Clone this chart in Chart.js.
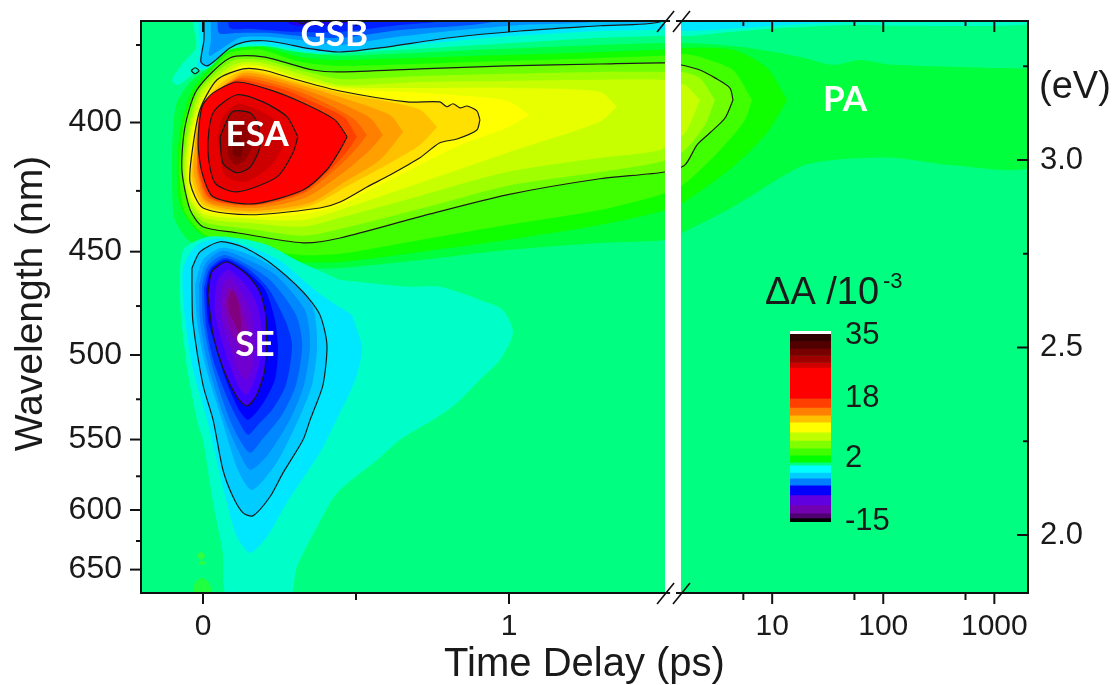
<!DOCTYPE html>
<html><head><meta charset="utf-8">
<style>html,body{margin:0;padding:0;background:#fff;overflow:hidden}
#wrap{position:relative;width:1113px;height:685px}
canvas{position:absolute;left:0;top:0}
#bar{left:780px;top:320px}</style>
<script src="https://cdn.jsdelivr.net/npm/chart.js@4"></script></head>
<body><div id="wrap"><canvas id="map" width="1113" height="685"></canvas><canvas id="bar" width="125" height="225"></canvas></div>
<script>
// Contours: [delay axis position (fs; compressed log past the break), photon energy (meV)]
const gsbTeal=[[-42,3400],[-29,3347],[-23,3299],[-62,3262],[-101,3214],[-82,3200],[-23,3235],[23,3246],[72,3288],[137,3302],[252,3294],[382,3283],[644,3294],[971,3310],[1297,3326],[1493,3331],[1592,3331],[1690,3339],[1886,3352],[2114,3360],[2278,3358],[2719,3363],[2719,3400]];
const gsbCyan=[[-16,3400],[-13,3334],[-10,3280],[-20,3248],[13,3246],[72,3294],[137,3310],[252,3302],[382,3288],[644,3304],[971,3328],[1297,3344],[1493,3347],[1592,3344],[1755,3352],[1951,3363],[2114,3371],[2114,3400]];
const gsbLine=[[3,3400],[3,3320],[-7,3262],[13,3251],[42,3267],[88,3299],[137,3315],[199,3318],[268,3310],[333,3299],[448,3288],[578,3299],[807,3326],[1036,3344],[1297,3358],[1493,3368],[1493,3400]];
const gsb4=[[23,3400],[26,3320],[20,3278],[56,3294],[121,3326],[219,3328],[317,3320],[448,3307],[611,3326],[807,3344],[1036,3360],[1297,3371],[1297,3400]];
const gsb5=[[49,3400],[52,3339],[105,3339],[219,3339],[317,3331],[448,3326],[644,3347],[905,3363],[1134,3400]];
const gsb6=[[82,3400],[88,3352],[154,3350],[284,3342],[448,3342],[644,3360],[807,3374],[807,3400]];
const gsb7=[[268,3400],[284,3363],[350,3358],[448,3363],[578,3374],[644,3400]];
const gsbRing=[[-39,3238],[-26,3246],[-13,3238],[-26,3230]];
const gsbCore=[[304,3374],[324,3363],[343,3374]];

const pa1=[[2719,3243],[2255,3254],[2147,3267],[2059,3254],[1951,3275],[1755,3302],[1559,3312],[1297,3307],[905,3294],[448,3278],[307,3288],[196,3304],[88,3288],[33,3254],[-42,3208],[-88,3147],[-101,3027],[-101,2920],[-92,2840],[-42,2782],[56,2747],[317,2712],[448,2712],[719,2734],[993,2760],[1297,2779],[1510,2787],[1565,2806],[1732,2875],[1951,2982],[2059,3000],[2255,3006],[2441,2987],[2719,2987]];
const pa2=[[1909,3160],[1843,3246],[1732,3294],[1569,3299],[1493,3294],[1297,3288],[905,3278],[448,3267],[317,3275],[193,3302],[88,3294],[23,3246],[-36,3187],[-72,3094],[-85,2987],[-75,2880],[-16,2808],[154,2744],[317,2728],[448,2728],[709,2755],[993,2787],[1297,2827],[1493,2862],[1569,2886],[1732,2982],[1843,3072]];
const pa3=[[1794,3160],[1732,3240],[1624,3275],[1569,3283],[1493,3278],[1297,3272],[905,3262],[448,3251],[317,3262],[186,3294],[88,3286],[29,3240],[-29,3179],[-65,3088],[-77,2974],[-62,2867],[7,2800],[154,2766],[317,2747],[448,2750],[709,2787],[993,2827],[1297,2867],[1493,2907],[1569,2934],[1690,3027],[1771,3107]];
const paLine=[[1732,3160],[1722,3192],[1673,3219],[1624,3240],[1559,3254],[1510,3259],[1297,3256],[993,3251],[709,3243],[448,3235],[360,3240],[196,3275],[88,3272],[-20,3187],[-59,3088],[-69,2974],[-42,2867],[0,2822],[111,2806],[327,2779],[448,2792],[719,2851],[993,2907],[1297,2950],[1510,2968],[1575,2987],[1614,3040],[1656,3072],[1706,3112]];
const pa5=[[1673,3160],[1624,3219],[1565,3235],[1493,3235],[1297,3235],[993,3230],[709,3224],[448,3216],[317,3240],[196,3267],[95,3264],[-10,3187],[-49,3088],[-64,2974],[-49,2880],[3,2835],[154,2816],[327,2798],[448,2816],[719,2872],[993,2931],[1297,2968],[1493,2995],[1569,3022],[1641,3094]];
const pa6=[[1624,3160],[1575,3200],[1493,3214],[1297,3214],[993,3211],[709,3208],[448,3200],[317,3230],[193,3259],[105,3256],[0,3187],[-42,3088],[-59,2974],[-46,2894],[3,2846],[154,2832],[327,2822],[448,2846],[719,2907],[993,2968],[1297,3006],[1493,3027],[1575,3072]];
const pa7=[[1353,3142],[1297,3182],[993,3192],[709,3192],[448,3195],[317,3219],[193,3251],[114,3251],[7,3182],[-36,3088],[-54,2974],[-39,2894],[7,2854],[154,2843],[327,2840],[448,2867],[719,2942],[993,3019],[1297,3102]];
const pa8=[[1068,3120],[993,3158],[807,3174],[644,3182],[448,3190],[317,3214],[193,3246],[121,3248],[16,3182],[-29,3088],[-49,2974],[-33,2899],[10,2862],[154,2848],[327,2856],[448,2880],[578,2934],[709,2987],[840,3040],[993,3086]];
const esaLine1=[[905,3107],[895,3131],[863,3144],[840,3139],[817,3150],[797,3142],[774,3155],[667,3155],[448,3184],[307,3214],[196,3240],[131,3243],[46,3214],[-10,3134],[-36,3019],[-42,2939],[0,2872],[154,2854],[382,2872],[448,2888],[536,2928],[611,2960],[709,3006],[774,3046],[830,3056],[895,3080]];
const esa10=[[765,3088],[709,3134],[611,3155],[448,3179],[317,3206],[196,3232],[131,3238],[62,3206],[-7,3139],[-29,3027],[-36,2952],[3,2880],[154,2859],[350,2878],[480,2934],[611,2992],[709,3040]];
const esa11=[[654,3075],[611,3120],[448,3168],[317,3200],[196,3227],[131,3232],[69,3200],[-7,3139],[-26,3040],[-29,2960],[10,2886],[154,2864],[350,2886],[464,2942],[578,3000]];
const esa12=[[588,3067],[546,3112],[448,3152],[317,3192],[196,3219],[124,3224],[62,3192],[-7,3139],[-13,3046],[-20,2968],[13,2891],[163,2872],[333,2899],[448,2960],[546,3027]];
const esa13=[[536,3067],[497,3107],[431,3139],[317,3182],[196,3211],[121,3219],[56,3187],[-7,3139],[-18,3046],[-16,2968],[20,2896],[163,2878],[327,2910],[431,2974],[497,3027]];
const esa14=[[503,3062],[464,3112],[382,3147],[268,3187],[154,3211],[111,3214],[39,3182],[-7,3139],[-17,3046],[-13,2968],[23,2899],[163,2880],[327,2915],[415,2974],[474,3027]];
const esaLine2=[[471,3062],[431,3107],[327,3152],[219,3187],[111,3208],[33,3179],[-3,3142],[-16,3046],[-3,2966],[33,2902],[163,2883],[327,2920],[405,2974],[448,3027]];
const esaLine3=[[310,3062],[275,3115],[196,3155],[111,3174],[33,3126],[16,3027],[39,2939],[111,2915],[242,2955],[294,3019]];
const esa17=[[49,3054],[62,3112],[114,3150],[193,3128],[252,3094],[268,3054],[225,2987],[137,2942],[72,2960]];
const esaLine4=[[56,3062],[95,3128],[154,3126],[180,3094],[186,3035],[154,2981],[111,2966],[65,2992]];
const esa19=[[82,3054],[98,3094],[137,3094],[160,3040],[137,3000],[105,2987],[82,3014]];
const esa20=[[95,3040],[111,3067],[131,3040],[121,3008],[101,3014]];

const se1=[[448,2680],[667,2662],[774,2662],[905,2627],[980,2600],[1013,2539],[971,2467],[905,2414],[830,2352],[752,2307],[644,2254],[569,2200],[438,2112],[373,2022],[307,1915],[278,1827],[82,1827],[65,1952],[33,2086],[0,2254],[-16,2294],[-52,2446],[-75,2627],[-65,2760],[13,2795],[111,2792],[209,2774],[317,2728]];
const se2=[[487,2587],[520,2499],[503,2427],[480,2379],[448,2326],[425,2288],[382,2219],[274,2086],[209,1995],[154,1952],[111,1995],[65,2128],[13,2307],[-33,2440],[-59,2579],[-65,2712],[-20,2774],[56,2790],[163,2766],[261,2726],[373,2648]];
const seLine1=[[-36,2712],[-10,2755],[56,2782],[131,2768],[219,2726],[327,2648],[382,2587],[405,2507],[392,2400],[360,2328],[350,2307],[327,2254],[261,2165],[219,2102],[163,2051],[131,2059],[98,2102],[65,2174],[33,2307],[0,2400],[-33,2568],[-36,2648]];
const se3=[[-26,2667],[0,2734],[62,2766],[154,2747],[252,2702],[356,2614],[373,2507],[356,2400],[304,2294],[236,2187],[160,2120],[114,2174],[62,2307],[7,2454],[-20,2574]];
const se4=[[-13,2667],[10,2726],[65,2758],[147,2734],[236,2694],[333,2600],[350,2507],[330,2400],[284,2307],[212,2214],[154,2174],[114,2227],[72,2307],[16,2454],[-10,2574]];
const se5=[[-3,2667],[16,2718],[69,2747],[147,2720],[226,2675],[304,2587],[324,2507],[304,2400],[258,2320],[193,2254],[154,2219],[114,2262],[75,2334],[29,2454],[0,2574]];
const se6=[[3,2659],[23,2712],[72,2739],[144,2712],[212,2659],[268,2574],[291,2507],[271,2400],[226,2334],[180,2294],[147,2267],[114,2307],[75,2374],[33,2467],[10,2560]];
const se7=[[10,2654],[26,2707],[75,2734],[144,2702],[203,2654],[235,2574],[245,2494],[235,2414],[193,2347],[147,2307],[114,2339],[72,2419],[39,2507],[16,2574]];
const seLine2=[[16,2640],[29,2702],[78,2728],[144,2694],[186,2648],[206,2579],[203,2446],[176,2374],[144,2344],[111,2368],[65,2446],[33,2534]];
const se9=[[39,2640],[49,2680],[82,2707],[131,2675],[170,2627],[190,2560],[186,2467],[163,2400],[140,2374],[114,2400],[82,2467],[56,2534],[39,2595]];
const se10=[[56,2627],[65,2667],[88,2686],[121,2654],[154,2600],[170,2520],[160,2440],[140,2414],[114,2440],[88,2507],[62,2574]];
const se11=[[69,2614],[82,2659],[105,2648],[131,2600],[147,2534],[137,2480],[114,2507],[88,2547]];
const se12=[[82,2627],[95,2654],[114,2627],[124,2574],[121,2534],[105,2560],[85,2595]];

const blob1=[[-36,1835],[-26,1872],[-3,1886],[20,1872],[29,1835]];
const blob2=[[-20,1944],[-7,1955],[7,1944],[-7,1934]];
const blob3=[[-16,1925],[-3,1931],[10,1925],[-3,1920]];

const fillContours=[gsbTeal,gsbCyan,gsbLine,gsb4,gsb5,gsb6,gsb7,blob1,blob2,blob3,
  pa1,pa2,pa3,paLine,pa5,pa6,pa7,pa8,esaLine1,esa10,esa11,esa12,esa13,esa14,esaLine2,esaLine3,esa17,esaLine4,esa19,esa20,
  se1,se2,seLine1,se3,se4,se5,se6,se7,seLine2,se9,se10,se11,se12];
const fillColors=['#00ffc8','#00e8ff','#00c0ff','#0090ff','#0050ff','#0020ff','#2000e8','#20ff40','#30ff40','#30ff40',
  '#00ff3c','#10ff00','#40ff00','#70ff00','#a0ff00','#c8ff00','#e8ff00','#ffff00','#ffe000','#ffc000','#ffa000','#ff8000','#ff6000','#ff4000','#ff0000','#e60000','#cc0000','#b00000','#900000','#750000',
  '#00ffc8','#00e8ff','#00ccff','#00a8ff','#0088ff','#0060ff','#0030ff','#0000ff','#4000ff','#6000e8','#7000d0','#8000b0','#800080'];
const blackContours=[gsbLine,gsbRing,gsbCore,paLine,esaLine1,esaLine2,esaLine3,esaLine4,seLine1,seLine2];

const delayMajor=[0,1,10,100,1000];
const delayMinor=[0.5,5.5,55,550];
const nmMajor=[400,450,500,550,600,650];
const nmMinor=[375,425,475,525,575,625];
const evMajor=[3.0,2.5,2.0];
const evMinor=[3.25,2.75,2.25];
const breakBand=[1510,1562];
const regionNames=['GSB','ESA','SE','PA'];
const regionDelay=[429,177,170,2098];
const regionEnergy=[3334,3067,2507,3160];
const cbEdges=[36.3,35.6,33.7,31.6,29.7,27.8,26.5,18.1,15.7,13.6,11.7,9,6.8,4.7,2.8,0.9,0.1,-1.8,-3.4,-5.3,-7.9,-10.6,-12.8,-14.1,-15.2];
const cbColors=['#ffffff','#300000','#500000','#780000','#a00000','#d00000','#ff0000','#ff4000','#ff8000','#ffc000','#ffff00','#c0ff00','#80ff00','#40ff00','#00ff00','#00ff80','#00ffff','#00ccff','#0080ff','#0000ff','#6000e0','#7000b0','#500070','#000000'];
const cbTicks=[35,18,2,-15];

const delayPos=t=>t<=1?t*1000:1860+(Math.log10(t)-1)*363;
const nmToMeV=n=>1240000/n;
const SANS='"Liberation Sans",Arial,sans-serif';
const toXY=a=>a.concat([a[0]]).map(p=>({x:p[0],y:p[1]}));
const base={showLine:true,pointRadius:0,pointHoverRadius:0};
const datasets=[];
let ord=0;
fillContours.forEach((c,i)=>datasets.push({...base,data:toXY(c),fill:'shape',backgroundColor:fillColors[i],borderWidth:0,tension:0.25,order:-(ord++)}));
blackContours.forEach(c=>datasets.push({...base,data:toXY(c),fill:false,borderColor:'#1a1a1a',borderWidth:1.2,tension:0.25,order:-(ord++)}));
datasets.push({...base,data:toXY([[breakBand[0],1700],[breakBand[1],1700],[breakBand[1],3500],[breakBand[0],3500]]),fill:'shape',backgroundColor:'#ffffff',borderWidth:0,tension:0,order:-(ord++)});

const decor={id:'decor',
 beforeDatasetsDraw(c){const a=c.chartArea,g=c.ctx;g.save();g.fillStyle='#00ff80';g.fillRect(a.left,a.top,a.right-a.left,a.bottom-a.top);g.restore();},
 afterDatasetsDraw(c){
  const g=c.ctx,a=c.chartArea,X=c.scales.x,Y=c.scales.y,E=c.scales.ev;
  g.save();g.strokeStyle='#111';g.lineCap='butt';
  const seg=(x1,y1,x2,y2,w)=>{g.lineWidth=w;g.beginPath();g.moveTo(x1,y1);g.lineTo(x2,y2);g.stroke();};
  const b0=X.getPixelForValue(breakBand[0]),b1=X.getPixelForValue(breakBand[1]);
  const gap0=b0+5,gap1=b1-5;
  [a.top,a.bottom].forEach(y=>{seg(a.left-1,y,gap0,y,2);seg(gap1,y,a.right+1,y,2);});
  seg(a.left,a.top,a.left,a.bottom,2);seg(a.right,a.top,a.right,a.bottom,2);
  delayMajor.forEach(t=>{const x=X.getPixelForValue(delayPos(t));seg(x,a.bottom,x,a.bottom+11,2);seg(x,a.top,x,a.top+11,2);});
  delayMinor.forEach(t=>{const x=X.getPixelForValue(delayPos(t));seg(x,a.bottom,x,a.bottom+7,2);seg(x,a.top,x,a.top+5,2);});
  nmMajor.forEach(n=>{const y=Y.getPixelForValue(nmToMeV(n));seg(a.left-11,y,a.left,y,2);});
  nmMinor.forEach(n=>{const y=Y.getPixelForValue(nmToMeV(n));seg(a.left-5,y,a.left,y,2);});
  evMajor.forEach(v=>{const y=E.getPixelForValue(v);seg(a.right-11,y,a.right,y,2);});
  evMinor.forEach(v=>{const y=E.getPixelForValue(v);seg(a.right-5,y,a.right,y,2);});
  [b0,b1].forEach(x=>{seg(x-8,a.top+11,x+9,a.top-10,1.6);seg(x-8,a.bottom+11,x+9,a.bottom-10,1.6);});
  g.fillStyle='#fff';g.textAlign='center';g.textBaseline='middle';g.font='bold 35px Lato,"Open Sans",sans-serif';
  regionNames.forEach((n,i)=>g.fillText(n,X.getPixelForValue(regionDelay[i]),Y.getPixelForValue(regionEnergy[i])));
  g.fillStyle='#1a1a1a';g.textAlign='left';g.textBaseline='alphabetic';
  g.font='38px '+SANS;g.fillText('(eV)',1039,98);
  g.font='38px '+SANS;g.fillText('ΔA /10',765,304);
  g.font='22px '+SANS;g.fillText('-3',883,288);
  g.save();g.translate(31,303.5);g.rotate(-Math.PI/2);g.textAlign='center';g.textBaseline='middle';g.font='39px '+SANS;g.fillText('Wavelength (nm)',0,0);g.restore();
  g.restore();
 }};

const noPad=s=>{s.paddingTop=0;s.paddingBottom=0;s.paddingLeft=0;s.paddingRight=0;};
const off={grid:{display:false},border:{display:false}};
new Chart(document.getElementById('map'),{type:'scatter',data:{datasets},plugins:[decor],options:{
 responsive:false,animation:false,events:[],
 layout:{padding:{top:21,left:0,right:0,bottom:0}},
 plugins:{legend:{display:false},tooltip:{enabled:false}},
 scales:{
  x:{type:'linear',position:'bottom',min:-202.6,max:2696,...off,
   afterBuildTicks(s){s.ticks=delayMajor.map(t=>({value:delayPos(t)}));},
   afterFit(s){s.height=92;noPad(s);},
   ticks:{font:{size:30,family:SANS},color:'#1a1a1a',padding:8,autoSkip:false,maxRotation:0,
     callback(v,i){return String(delayMajor[i]);}},
   title:{display:true,text:'Time Delay (ps)',color:'#1a1a1a',font:{size:40,family:SANS,lineHeight:1},padding:{top:0,bottom:0}}},
  y:{type:'linear',position:'left',min:1845.3,max:3370.7,...off,
   afterBuildTicks(s){s.ticks=nmMajor.map(n=>({value:nmToMeV(n)})).reverse();},
   afterFit(s){s.width=141;noPad(s);},
   ticks:{font:{size:32,family:SANS},color:'#1a1a1a',padding:11,autoSkip:false,
     callback(v){return String(Math.round(1240000/v));}}},
  ev:{type:'linear',axis:'y',position:'right',min:1.8453,max:3.3707,...off,
   afterBuildTicks(s){s.ticks=evMajor.map(v=>({value:v})).reverse();},
   afterFit(s){s.width=85;noPad(s);},
   ticks:{font:{size:31,family:SANS},color:'#1a1a1a',padding:4,autoSkip:false,
     callback(v){return v.toFixed(1);}}}
 }}});

new Chart(document.getElementById('bar'),{type:'bar',
 data:{labels:['ΔA'],datasets:cbColors.map((col,i)=>({data:[[cbEdges[i+1],cbEdges[i]]],backgroundColor:col,borderWidth:0,grouped:false,barPercentage:1,categoryPercentage:1}))},
 options:{responsive:false,animation:false,events:[],
  layout:{padding:{top:11,left:10,right:0,bottom:23}},
  plugins:{legend:{display:false},tooltip:{enabled:false}},
  scales:{
   x:{display:false},
   y:{type:'linear',position:'right',min:-15.2,max:36.3,...off,
    afterBuildTicks(s){s.ticks=cbTicks.map(v=>({value:v})).reverse();},
    afterFit(s){s.width=74;noPad(s);},
    ticks:{font:{size:31,family:SANS},color:'#1a1a1a',padding:6,autoSkip:false}}
  }}});
</script></body></html>
